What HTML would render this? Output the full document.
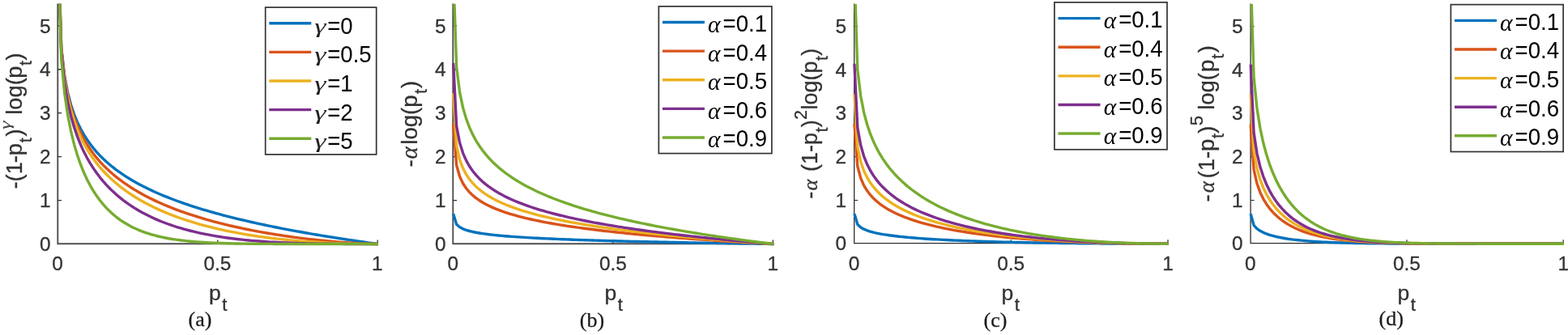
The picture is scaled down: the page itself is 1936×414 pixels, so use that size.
<!DOCTYPE html>
<html lang="en">
<head>
<meta charset="utf-8">
<title>Loss curves</title>
<style>
html,body{margin:0;padding:0;background:#fff;}
body{width:1936px;height:414px;overflow:hidden;}
svg{display:block;font-family:"Liberation Sans", sans-serif;}
</style>
</head>
<body>
<svg width="1936" height="414" viewBox="0 0 1936 414">
<rect width="1936" height="414" fill="#fff"/>
<g id="panel-a">
<clipPath id="clip-a"><rect x="69.3" y="4.63" width="400.9" height="300.67"/></clipPath>
<path d="M71.3 5.33V301.2H466.2" fill="none" stroke="#505050" stroke-width="1.9" stroke-linecap="square"/>
<path d="M268.75 301.2v-4.8M466.2 301.2v-4.8M71.3 247.56h4.8M71.3 193.62h4.8M71.3 139.68h4.8M71.3 85.74h4.8M71.3 31.8h4.8" fill="none" stroke="#303030" stroke-width="1.3"/>
<g clip-path="url(#clip-a)" fill="none" stroke-width="3.4" stroke-linejoin="round">
<polyline stroke="#0072BD" points="71.69,-71.1 75.68,58.68 79.66,93.58 83.65,114.6 87.63,129.68 91.62,141.46 95.6,151.12 99.59,159.31 103.57,166.41 107.56,172.69 111.54,178.32 115.53,183.41 119.51,188.06 123.5,192.35 127.48,196.32 131.47,200.01 135.45,203.47 139.44,206.72 143.42,209.79 147.41,212.69 151.39,215.44 155.38,218.06 159.36,220.56 163.35,222.95 167.33,225.23 171.32,227.42 175.3,229.53 179.29,231.56 183.27,233.51 187.26,235.4 191.24,237.22 195.23,238.99 199.21,240.69 203.2,242.35 207.18,243.95 211.17,245.51 215.15,247.03 219.14,248.5 223.12,249.94 227.11,251.33 231.09,252.7 235.08,254.03 239.06,255.32 243.05,256.59 247.03,257.83 251.02,259.04 255,260.22 258.99,261.38 262.97,262.51 266.95,263.62 270.94,264.71 274.92,265.77 278.91,266.82 282.89,267.84 286.88,268.85 290.86,269.84 294.85,270.81 298.83,271.76 302.82,272.7 306.8,273.62 310.79,274.52 314.77,275.41 318.76,276.29 322.74,277.15 326.73,278 330.71,278.83 334.7,279.66 338.68,280.47 342.67,281.26 346.65,282.05 350.64,282.83 354.62,283.59 358.61,284.34 362.59,285.09 366.58,285.82 370.56,286.54 374.55,287.26 378.53,287.96 382.52,288.65 386.5,289.34 390.49,290.02 394.47,290.69 398.46,291.35 402.44,292 406.43,292.65 410.41,293.28 414.4,293.91 418.38,294.54 422.37,295.15 426.35,295.76 430.34,296.36 434.32,296.96 438.31,297.55 442.29,298.13 446.28,298.71 450.26,299.28 454.25,299.84 458.23,300.4 462.22,300.95 466.2,301.5 467,301.5"/>
<polyline stroke="#D95319" points="71.69,-70.92 75.68,60.03 79.66,95.8 83.65,117.54 87.63,133.27 91.62,145.63 95.6,155.82 99.59,164.49 103.57,172.05 107.56,178.75 111.54,184.76 115.53,190.22 119.51,195.21 123.5,199.82 127.48,204.09 131.47,208.06 135.45,211.79 139.44,215.29 143.42,218.58 147.41,221.7 151.39,224.66 155.38,227.47 159.36,230.15 163.35,232.71 167.33,235.15 171.32,237.49 175.3,239.73 179.29,241.89 183.27,243.95 187.26,245.95 191.24,247.87 195.23,249.72 199.21,251.5 203.2,253.23 207.18,254.89 211.17,256.51 215.15,258.07 219.14,259.58 223.12,261.05 227.11,262.47 231.09,263.84 235.08,265.18 239.06,266.48 243.05,267.74 247.03,268.96 251.02,270.15 255,271.31 258.99,272.43 262.97,273.53 266.95,274.59 270.94,275.63 274.92,276.64 278.91,277.62 282.89,278.57 286.88,279.5 290.86,280.4 294.85,281.28 298.83,282.14 302.82,282.97 306.8,283.79 310.79,284.58 314.77,285.35 318.76,286.1 322.74,286.82 326.73,287.53 330.71,288.22 334.7,288.89 338.68,289.55 342.67,290.18 346.65,290.8 350.64,291.4 354.62,291.98 358.61,292.54 362.59,293.09 366.58,293.62 370.56,294.14 374.55,294.64 378.53,295.12 382.52,295.59 386.5,296.04 390.49,296.47 394.47,296.89 398.46,297.3 402.44,297.68 406.43,298.06 410.41,298.41 414.4,298.75 418.38,299.08 422.37,299.39 426.35,299.68 430.34,299.95 434.32,300.21 438.31,300.45 442.29,300.67 446.28,300.87 450.26,301.05 454.25,301.21 458.23,301.34 462.22,301.45 466.2,301.5 467,301.5"/>
<polyline stroke="#EDB120" points="71.69,-70.73 75.68,61.38 79.66,97.99 83.65,120.44 87.63,136.79 91.62,149.69 95.6,160.37 99.59,169.49 103.57,177.45 107.56,184.52 111.54,190.87 115.53,196.64 119.51,201.91 123.5,206.78 127.48,211.28 131.47,215.48 135.45,219.4 139.44,223.08 143.42,226.54 147.41,229.81 151.39,232.9 155.38,235.83 159.36,238.61 163.35,241.26 167.33,243.78 171.32,246.19 175.3,248.49 179.29,250.69 183.27,252.79 187.26,254.81 191.24,256.75 195.23,258.6 199.21,260.39 203.2,262.11 207.18,263.76 211.17,265.34 215.15,266.87 219.14,268.34 223.12,269.76 227.11,271.13 231.09,272.44 235.08,273.71 239.06,274.94 243.05,276.12 247.03,277.26 251.02,278.36 255,279.42 258.99,280.45 262.97,281.43 266.95,282.39 270.94,283.31 274.92,284.19 278.91,285.05 282.89,285.88 286.88,286.67 290.86,287.44 294.85,288.18 298.83,288.9 302.82,289.58 306.8,290.25 310.79,290.88 314.77,291.5 318.76,292.09 322.74,292.65 326.73,293.2 330.71,293.72 334.7,294.23 338.68,294.71 342.67,295.17 346.65,295.61 350.64,296.04 354.62,296.44 358.61,296.83 362.59,297.19 366.58,297.54 370.56,297.88 374.55,298.19 378.53,298.49 382.52,298.78 386.5,299.05 390.49,299.3 394.47,299.54 398.46,299.76 402.44,299.97 406.43,300.16 410.41,300.34 414.4,300.5 418.38,300.66 422.37,300.8 426.35,300.92 430.34,301.03 434.32,301.13 438.31,301.22 442.29,301.3 446.28,301.36 450.26,301.41 454.25,301.45 458.23,301.48 462.22,301.49 466.2,301.5 467,301.5"/>
<polyline stroke="#7E2F8E" points="71.69,-70.36 75.68,64.04 79.66,102.3 83.65,126.1 87.63,143.6 91.62,157.5 95.6,169.06 99.59,178.95 103.57,187.59 107.56,195.26 111.54,202.15 115.53,208.38 119.51,214.07 123.5,219.3 127.48,224.12 131.47,228.58 135.45,232.73 139.44,236.61 143.42,240.23 147.41,243.62 151.39,246.81 155.38,249.81 159.36,252.63 163.35,255.3 167.33,257.82 171.32,260.2 175.3,262.45 179.29,264.58 183.27,266.6 187.26,268.52 191.24,270.34 195.23,272.07 199.21,273.71 203.2,275.26 207.18,276.74 211.17,278.15 215.15,279.49 219.14,280.76 223.12,281.96 227.11,283.11 231.09,284.2 235.08,285.24 239.06,286.22 243.05,287.16 247.03,288.05 251.02,288.89 255,289.69 258.99,290.45 262.97,291.17 266.95,291.86 270.94,292.5 274.92,293.12 278.91,293.7 282.89,294.25 286.88,294.77 290.86,295.26 294.85,295.72 298.83,296.16 302.82,296.57 306.8,296.96 310.79,297.32 314.77,297.66 318.76,297.99 322.74,298.29 326.73,298.57 330.71,298.83 334.7,299.08 338.68,299.31 342.67,299.52 346.65,299.72 350.64,299.9 354.62,300.07 358.61,300.23 362.59,300.37 366.58,300.5 370.56,300.62 374.55,300.73 378.53,300.83 382.52,300.92 386.5,301 390.49,301.08 394.47,301.14 398.46,301.2 402.44,301.25 406.43,301.3 410.41,301.34 414.4,301.37 418.38,301.4 422.37,301.42 426.35,301.44 430.34,301.46 434.32,301.47 438.31,301.48 442.29,301.49 446.28,301.49 450.26,301.5 454.25,301.5 458.23,301.5 462.22,301.5 466.2,301.5 467,301.5"/>
<polyline stroke="#77AC30" points="71.69,-69.25 75.68,71.85 79.66,114.69 83.65,142.05 87.63,162.4 91.62,178.61 95.6,192.04 99.59,203.44 103.57,213.3 107.56,221.92 111.54,229.53 115.53,236.3 119.51,242.34 123.5,247.78 127.48,252.67 131.47,257.09 135.45,261.1 139.44,264.74 143.42,268.04 147.41,271.05 151.39,273.79 155.38,276.29 159.36,278.58 163.35,280.66 167.33,282.56 171.32,284.3 175.3,285.89 179.29,287.34 183.27,288.67 187.26,289.88 191.24,290.98 195.23,291.99 199.21,292.91 203.2,293.75 207.18,294.51 211.17,295.21 215.15,295.84 219.14,296.42 223.12,296.94 227.11,297.42 231.09,297.85 235.08,298.24 239.06,298.59 243.05,298.91 247.03,299.2 251.02,299.46 255,299.69 258.99,299.9 262.97,300.09 266.95,300.26 270.94,300.41 274.92,300.55 278.91,300.67 282.89,300.77 286.88,300.87 290.86,300.95 294.85,301.03 298.83,301.09 302.82,301.15 306.8,301.2 310.79,301.25 314.77,301.28 318.76,301.32 322.74,301.35 326.73,301.37 330.71,301.39 334.7,301.41 338.68,301.43 342.67,301.44 346.65,301.45 350.64,301.46 354.62,301.47 358.61,301.47 362.59,301.48 366.58,301.48 370.56,301.49 374.55,301.49 378.53,301.49 382.52,301.49 386.5,301.5 390.49,301.5 394.47,301.5 398.46,301.5 402.44,301.5 406.43,301.5 410.41,301.5 414.4,301.5 418.38,301.5 422.37,301.5 426.35,301.5 430.34,301.5 434.32,301.5 438.31,301.5 442.29,301.5 446.28,301.5 450.26,301.5 454.25,301.5 458.23,301.5 462.22,301.5 466.2,301.5 467,301.5"/>
</g>
<g font-size="24.4" fill="#333333" stroke="#333333" stroke-width="0.3">
<text x="71" y="334" text-anchor="middle">0</text>
<text x="268.45" y="334" text-anchor="middle">0.5</text>
<text x="465.9" y="334" text-anchor="middle">1</text>
<text x="62.5" y="310.24" text-anchor="end">0</text>
<text x="62.5" y="256.3" text-anchor="end">1</text>
<text x="62.5" y="202.36" text-anchor="end">2</text>
<text x="62.5" y="148.42" text-anchor="end">3</text>
<text x="62.5" y="94.48" text-anchor="end">4</text>
<text x="62.5" y="40.54" text-anchor="end">5</text>
</g>
<text transform="translate(27.1 233.5) rotate(-90)" font-size="27.3" fill="#333333" stroke="#333333" stroke-width="0.3" xml:space="preserve"><tspan font-size="27.3">-(1</tspan><tspan font-size="27.3" dx="-1.1">-p</tspan><tspan font-size="21.84" dy="11.74" dx="0.8">t</tspan><tspan font-size="27.3" dy="-11.74" dx="1.5">)</tspan><tspan font-size="27.3" dx="10.1"> log(</tspan><tspan font-size="27.3" dx="-0.5">p</tspan><tspan font-size="21.84" dy="11.74" dx="0.6">t</tspan><tspan font-size="27.3" dy="-11.74" dx="0.3">)</tspan></text>
<text transform="translate(13 160.1) rotate(-90) scale(1.42 1)" font-family='"Liberation Serif", serif' font-style="italic" font-size="18.6" fill="#444">γ</text>
<text x="257.9" y="371.1" font-size="26.5" fill="#333333" stroke="#333333" stroke-width="0.35">p<tspan font-size="21.99" dy="12.4" dx="1.6">t</tspan></text>
<text x="246.9" y="402.7" text-anchor="middle" font-size="26" font-family='"Liberation Serif", serif' fill="#1a1a1a" stroke="#1a1a1a" stroke-width="0.25">(a)</text>
<rect x="327.7" y="9.1" width="137" height="181.8" fill="#fff" stroke="#333333" stroke-width="1.7"/>
<line x1="332.3" y1="28.8" x2="384.3" y2="28.8" stroke="#0072BD" stroke-width="3.4"/>
<text transform="translate(388.18 40.84) scale(1.42 1)" font-family='"Liberation Serif", serif' font-style="italic" font-size="25.5" fill="#222">γ</text>
<text transform="translate(404.2 41.7) scale(0.92 1)" font-size="30" fill="#000">=0</text>
<line x1="332.3" y1="64.4" x2="384.3" y2="64.4" stroke="#D95319" stroke-width="3.4"/>
<text transform="translate(388.18 76.45) scale(1.42 1)" font-family='"Liberation Serif", serif' font-style="italic" font-size="25.5" fill="#222">γ</text>
<text transform="translate(404.2 77.3) scale(0.92 1)" font-size="30" fill="#000">=0.5</text>
<line x1="332.3" y1="100" x2="384.3" y2="100" stroke="#EDB120" stroke-width="3.4"/>
<text transform="translate(388.18 112.05) scale(1.42 1)" font-family='"Liberation Serif", serif' font-style="italic" font-size="25.5" fill="#222">γ</text>
<text transform="translate(404.2 112.9) scale(0.92 1)" font-size="30" fill="#000">=1</text>
<line x1="332.3" y1="135.6" x2="384.3" y2="135.6" stroke="#7E2F8E" stroke-width="3.4"/>
<text transform="translate(388.18 147.65) scale(1.42 1)" font-family='"Liberation Serif", serif' font-style="italic" font-size="25.5" fill="#222">γ</text>
<text transform="translate(404.2 148.5) scale(0.92 1)" font-size="30" fill="#000">=2</text>
<line x1="332.3" y1="171.2" x2="384.3" y2="171.2" stroke="#77AC30" stroke-width="3.4"/>
<text transform="translate(388.18 183.25) scale(1.42 1)" font-family='"Liberation Serif", serif' font-style="italic" font-size="25.5" fill="#222">γ</text>
<text transform="translate(404.2 184.1) scale(0.92 1)" font-size="30" fill="#000">=5</text>
</g>
<g id="panel-b">
<clipPath id="clip-b"><rect x="557.3" y="4.63" width="401.1" height="300.67"/></clipPath>
<path d="M559.3 5.33V301.2H954.4" fill="none" stroke="#505050" stroke-width="1.9" stroke-linecap="square"/>
<path d="M756.85 301.2v-4.8M954.4 301.2v-4.8M559.3 247.56h4.8M559.3 193.62h4.8M559.3 139.68h4.8M559.3 85.74h4.8M559.3 31.8h4.8" fill="none" stroke="#303030" stroke-width="1.3"/>
<g clip-path="url(#clip-b)" fill="none" stroke-width="3.4" stroke-linejoin="round">
<polyline stroke="#0072BD" points="559.7,264.24 563.68,277.22 567.67,280.71 571.66,282.81 575.64,284.32 579.63,285.5 583.62,286.46 587.6,287.28 591.59,287.99 595.58,288.62 599.56,289.18 603.55,289.69 607.54,290.16 611.53,290.58 615.51,290.98 619.5,291.35 623.49,291.7 627.47,292.02 631.46,292.33 635.45,292.62 639.43,292.89 643.42,293.16 647.41,293.41 651.39,293.64 655.38,293.87 659.37,294.09 663.35,294.3 667.34,294.51 671.33,294.7 675.32,294.89 679.3,295.07 683.29,295.25 687.28,295.42 691.26,295.58 695.25,295.75 699.24,295.9 703.22,296.05 707.21,296.2 711.2,296.34 715.18,296.48 719.17,296.62 723.16,296.75 727.15,296.88 731.13,297.01 735.12,297.13 739.11,297.25 743.09,297.37 747.08,297.49 751.07,297.6 755.05,297.71 759.04,297.82 763.03,297.93 767.01,298.03 771,298.13 774.99,298.23 778.98,298.33 782.96,298.43 786.95,298.53 790.94,298.62 794.92,298.71 798.91,298.8 802.9,298.89 806.88,298.98 810.87,299.07 814.86,299.15 818.84,299.23 822.83,299.32 826.82,299.4 830.81,299.48 834.79,299.56 838.78,299.63 842.77,299.71 846.75,299.78 850.74,299.86 854.73,299.93 858.71,300 862.7,300.08 866.69,300.15 870.67,300.22 874.66,300.28 878.65,300.35 882.64,300.42 886.62,300.48 890.61,300.55 894.6,300.61 898.58,300.68 902.57,300.74 906.56,300.8 910.54,300.87 914.53,300.93 918.52,300.99 922.5,301.05 926.49,301.1 930.48,301.16 934.47,301.22 938.45,301.28 942.44,301.33 946.43,301.39 950.41,301.45 954.4,301.5 955.2,301.5"/>
<polyline stroke="#D95319" points="559.7,152.46 563.68,204.37 567.67,218.33 571.66,226.74 575.64,232.77 579.63,237.48 583.62,241.35 587.6,244.62 591.59,247.47 595.58,249.98 599.56,252.23 603.55,254.26 607.54,256.13 611.53,257.84 615.51,259.43 619.5,260.91 623.49,262.29 627.47,263.59 631.46,264.82 635.45,265.98 639.43,267.08 643.42,268.12 647.41,269.12 651.39,270.08 655.38,270.99 659.37,271.87 663.35,272.71 667.34,273.52 671.33,274.31 675.32,275.06 679.3,275.79 683.29,276.49 687.28,277.18 691.26,277.84 695.25,278.48 699.24,279.11 703.22,279.71 707.21,280.3 711.2,280.87 715.18,281.43 719.17,281.98 723.16,282.51 727.15,283.03 731.13,283.54 735.12,284.03 739.11,284.51 743.09,284.99 747.08,285.45 751.07,285.9 755.05,286.35 759.04,286.78 763.03,287.21 767.01,287.63 771,288.04 774.99,288.44 778.98,288.84 782.96,289.22 786.95,289.6 790.94,289.98 794.92,290.35 798.91,290.71 802.9,291.07 806.88,291.42 810.87,291.76 814.86,292.1 818.84,292.43 822.83,292.76 826.82,293.09 830.81,293.41 834.79,293.72 838.78,294.03 842.77,294.34 846.75,294.64 850.74,294.93 854.73,295.23 858.71,295.52 862.7,295.8 866.69,296.08 870.67,296.36 874.66,296.64 878.65,296.91 882.64,297.18 886.62,297.44 890.61,297.7 894.6,297.96 898.58,298.21 902.57,298.47 906.56,298.72 910.54,298.96 914.53,299.2 918.52,299.45 922.5,299.68 926.49,299.92 930.48,300.15 934.47,300.38 938.45,300.61 942.44,300.84 946.43,301.06 950.41,301.28 954.4,301.5 955.2,301.5"/>
<polyline stroke="#EDB120" points="559.7,115.2 563.68,180.09 567.67,197.54 571.66,208.05 575.64,215.59 579.63,221.48 583.62,226.31 587.6,230.4 591.59,233.96 595.58,237.1 599.56,239.91 603.55,242.46 607.54,244.78 611.53,246.92 615.51,248.91 619.5,250.76 623.49,252.49 627.47,254.11 631.46,255.64 635.45,257.09 639.43,258.47 643.42,259.78 647.41,261.03 651.39,262.22 655.38,263.37 659.37,264.46 663.35,265.52 667.34,266.53 671.33,267.51 675.32,268.45 679.3,269.36 683.29,270.24 687.28,271.1 691.26,271.92 695.25,272.73 699.24,273.51 703.22,274.26 707.21,275 711.2,275.72 715.18,276.42 719.17,277.1 723.16,277.76 727.15,278.41 731.13,279.04 735.12,279.66 739.11,280.27 743.09,280.86 747.08,281.44 751.07,282 755.05,282.56 759.04,283.1 763.03,283.64 767.01,284.16 771,284.67 774.99,285.17 778.98,285.67 782.96,286.15 786.95,286.63 790.94,287.1 794.92,287.56 798.91,288.01 802.9,288.46 806.88,288.89 810.87,289.33 814.86,289.75 818.84,290.17 822.83,290.58 826.82,290.98 830.81,291.38 834.79,291.78 838.78,292.16 842.77,292.54 846.75,292.92 850.74,293.29 854.73,293.66 858.71,294.02 862.7,294.38 866.69,294.73 870.67,295.08 874.66,295.42 878.65,295.76 882.64,296.09 886.62,296.42 890.61,296.75 894.6,297.07 898.58,297.39 902.57,297.71 906.56,298.02 910.54,298.33 914.53,298.63 918.52,298.93 922.5,299.23 926.49,299.52 930.48,299.82 934.47,300.1 938.45,300.39 942.44,300.67 946.43,300.95 950.41,301.23 954.4,301.5 955.2,301.5"/>
<polyline stroke="#7E2F8E" points="559.7,77.94 563.68,155.81 567.67,176.75 571.66,189.36 575.64,198.41 579.63,205.47 583.62,211.27 587.6,216.18 591.59,220.45 595.58,224.22 599.56,227.59 603.55,230.65 607.54,233.44 611.53,236.01 615.51,238.39 619.5,240.61 623.49,242.68 627.47,244.63 631.46,246.47 635.45,248.21 639.43,249.87 643.42,251.44 647.41,252.94 651.39,254.37 655.38,255.74 659.37,257.05 663.35,258.32 667.34,259.54 671.33,260.71 675.32,261.84 679.3,262.93 683.29,263.99 687.28,265.02 691.26,266.01 695.25,266.97 699.24,267.91 703.22,268.82 707.21,269.7 711.2,270.56 715.18,271.4 719.17,272.22 723.16,273.02 727.15,273.79 731.13,274.55 735.12,275.3 739.11,276.02 743.09,276.73 747.08,277.43 751.07,278.11 755.05,278.77 759.04,279.42 763.03,280.06 767.01,280.69 771,281.31 774.99,281.91 778.98,282.5 782.96,283.08 786.95,283.66 790.94,284.22 794.92,284.77 798.91,285.31 802.9,285.85 806.88,286.37 810.87,286.89 814.86,287.4 818.84,287.9 822.83,288.39 826.82,288.88 830.81,289.36 834.79,289.83 838.78,290.3 842.77,290.75 846.75,291.21 850.74,291.65 854.73,292.09 858.71,292.53 862.7,292.95 866.69,293.38 870.67,293.79 874.66,294.2 878.65,294.61 882.64,295.01 886.62,295.41 890.61,295.8 894.6,296.19 898.58,296.57 902.57,296.95 906.56,297.32 910.54,297.69 914.53,298.06 918.52,298.42 922.5,298.78 926.49,299.13 930.48,299.48 934.47,299.82 938.45,300.17 942.44,300.51 946.43,300.84 950.41,301.17 954.4,301.5 955.2,301.5"/>
<polyline stroke="#77AC30" points="559.7,-33.84 563.68,82.96 567.67,114.37 571.66,133.29 575.64,146.86 579.63,157.46 583.62,166.15 587.6,173.53 591.59,179.92 595.58,185.57 599.56,190.64 603.55,195.22 607.54,199.41 611.53,203.26 615.51,206.83 619.5,210.16 623.49,213.27 627.47,216.2 631.46,218.96 635.45,221.57 639.43,224.05 643.42,226.4 647.41,228.65 651.39,230.8 655.38,232.86 659.37,234.83 663.35,236.73 667.34,238.55 671.33,240.31 675.32,242.01 679.3,243.65 683.29,245.24 687.28,246.77 691.26,248.26 695.25,249.71 699.24,251.11 703.22,252.48 707.21,253.8 711.2,255.09 715.18,256.35 719.17,257.58 723.16,258.77 727.15,259.94 731.13,261.08 735.12,262.19 739.11,263.28 743.09,264.35 747.08,265.39 751.07,266.41 755.05,267.41 759.04,268.39 763.03,269.35 767.01,270.29 771,271.21 774.99,272.11 778.98,273 782.96,273.88 786.95,274.74 790.94,275.58 794.92,276.41 798.91,277.22 802.9,278.02 806.88,278.81 810.87,279.59 814.86,280.35 818.84,281.1 822.83,281.84 826.82,282.57 830.81,283.29 834.79,284 838.78,284.69 842.77,285.38 846.75,286.06 850.74,286.73 854.73,287.39 858.71,288.04 862.7,288.68 866.69,289.31 870.67,289.94 874.66,290.56 878.65,291.17 882.64,291.77 886.62,292.36 890.61,292.95 894.6,293.53 898.58,294.11 902.57,294.67 906.56,295.23 910.54,295.79 914.53,296.34 918.52,296.88 922.5,297.41 926.49,297.94 930.48,298.47 934.47,298.99 938.45,299.5 942.44,300.01 946.43,300.51 950.41,301.01 954.4,301.5 955.2,301.5"/>
</g>
<g font-size="24.4" fill="#333333" stroke="#333333" stroke-width="0.3">
<text x="559.3" y="334" text-anchor="middle">0</text>
<text x="756.85" y="334" text-anchor="middle">0.5</text>
<text x="954.4" y="334" text-anchor="middle">1</text>
<text x="550.6" y="310.24" text-anchor="end">0</text>
<text x="550.6" y="256.3" text-anchor="end">1</text>
<text x="550.6" y="202.36" text-anchor="end">2</text>
<text x="550.6" y="148.42" text-anchor="end">3</text>
<text x="550.6" y="94.48" text-anchor="end">4</text>
<text x="550.6" y="40.54" text-anchor="end">5</text>
</g>
<text transform="translate(515 206.6) rotate(-90)" font-size="27.5" fill="#333333" stroke="#333333" stroke-width="0.3" xml:space="preserve"><tspan font-size="27.5">-</tspan><tspan font-size="28.88" font-family='"Liberation Serif", serif' font-style="italic" dx="1">α</tspan><tspan font-size="27.5" dx="2.6">log(p</tspan><tspan font-size="22" dy="11.82" dx="1.5">t</tspan><tspan font-size="27.5" dy="-11.82" dx="0.9">)</tspan></text>
<text x="746.4" y="371.1" font-size="26.5" fill="#333333" stroke="#333333" stroke-width="0.35">p<tspan font-size="21.99" dy="12.4" dx="1.6">t</tspan></text>
<text x="731" y="404.2" text-anchor="middle" font-size="26" font-family='"Liberation Serif", serif' fill="#1a1a1a" stroke="#1a1a1a" stroke-width="0.25">(b)</text>
<rect x="813.35" y="7.9" width="139.55" height="181.7" fill="#fff" stroke="#333333" stroke-width="1.7"/>
<line x1="817.95" y1="27.55" x2="869.95" y2="27.55" stroke="#0072BD" stroke-width="3.4"/>
<text transform="translate(874.11 40.05) scale(1 1)" font-family='"Liberation Serif", serif' font-style="italic" font-size="29.6" fill="#000">α</text>
<text transform="translate(892.6 39.05) scale(0.92 1)" font-size="30" fill="#000">=0.1</text>
<line x1="817.95" y1="63.15" x2="869.95" y2="63.15" stroke="#D95319" stroke-width="3.4"/>
<text transform="translate(874.11 75.65) scale(1 1)" font-family='"Liberation Serif", serif' font-style="italic" font-size="29.6" fill="#000">α</text>
<text transform="translate(892.6 74.65) scale(0.92 1)" font-size="30" fill="#000">=0.4</text>
<line x1="817.95" y1="98.75" x2="869.95" y2="98.75" stroke="#EDB120" stroke-width="3.4"/>
<text transform="translate(874.11 111.25) scale(1 1)" font-family='"Liberation Serif", serif' font-style="italic" font-size="29.6" fill="#000">α</text>
<text transform="translate(892.6 110.25) scale(0.92 1)" font-size="30" fill="#000">=0.5</text>
<line x1="817.95" y1="134.35" x2="869.95" y2="134.35" stroke="#7E2F8E" stroke-width="3.4"/>
<text transform="translate(874.11 146.85) scale(1 1)" font-family='"Liberation Serif", serif' font-style="italic" font-size="29.6" fill="#000">α</text>
<text transform="translate(892.6 145.85) scale(0.92 1)" font-size="30" fill="#000">=0.6</text>
<line x1="817.95" y1="169.95" x2="869.95" y2="169.95" stroke="#77AC30" stroke-width="3.4"/>
<text transform="translate(874.11 182.45) scale(1 1)" font-family='"Liberation Serif", serif' font-style="italic" font-size="29.6" fill="#000">α</text>
<text transform="translate(892.6 181.45) scale(0.92 1)" font-size="30" fill="#000">=0.9</text>
</g>
<g id="panel-c">
<clipPath id="clip-c"><rect x="1052.5" y="5.04" width="393.5" height="299.46"/></clipPath>
<path d="M1054.7 5.24V300.7H1442" fill="none" stroke="#2e2e2e" stroke-width="1.3" stroke-linecap="square"/>
<path d="M1248.25 300.7v-4.5M1442 300.7v-4.5M1054.7 247.48h4.5M1054.7 193.76h4.5M1054.7 140.04h4.5M1054.7 86.32h4.5M1054.7 32.6h4.5" fill="none" stroke="#262626" stroke-width="1.2"/>
<g clip-path="url(#clip-c)" fill="none" stroke-width="3.4" stroke-linejoin="round">
<polyline stroke="#0072BD" points="1054.89,264.13 1058.8,277.29 1062.71,280.93 1066.62,283.17 1070.53,284.8 1074.44,286.08 1078.35,287.14 1082.26,288.05 1086.17,288.85 1090.08,289.55 1093.99,290.18 1097.9,290.76 1101.81,291.28 1105.72,291.77 1109.63,292.21 1113.54,292.63 1117.45,293.02 1121.36,293.39 1125.27,293.73 1129.18,294.06 1133.09,294.37 1137,294.66 1140.91,294.94 1144.82,295.2 1148.73,295.45 1152.64,295.69 1156.55,295.92 1160.46,296.14 1164.37,296.35 1168.28,296.55 1172.19,296.74 1176.1,296.93 1180.01,297.11 1183.92,297.28 1187.84,297.44 1191.75,297.6 1195.66,297.75 1199.57,297.9 1203.48,298.04 1207.39,298.18 1211.3,298.31 1215.21,298.43 1219.12,298.55 1223.03,298.67 1226.94,298.79 1230.85,298.9 1234.76,299 1238.67,299.1 1242.58,299.2 1246.49,299.3 1250.4,299.39 1254.31,299.48 1258.22,299.56 1262.13,299.64 1266.04,299.72 1269.95,299.8 1273.86,299.87 1277.77,299.94 1281.68,300.01 1285.59,300.08 1289.5,300.14 1293.41,300.2 1297.32,300.26 1301.23,300.32 1305.14,300.37 1309.05,300.43 1312.96,300.48 1316.87,300.52 1320.78,300.57 1324.69,300.61 1328.6,300.66 1332.51,300.7 1336.42,300.73 1340.33,300.77 1344.24,300.81 1348.15,300.84 1352.06,300.87 1355.97,300.9 1359.89,300.93 1363.8,300.96 1367.71,300.98 1371.62,301 1375.53,301.03 1379.44,301.05 1383.35,301.07 1387.26,301.08 1391.17,301.1 1395.08,301.12 1398.99,301.13 1402.9,301.14 1406.81,301.15 1410.72,301.16 1414.63,301.17 1418.54,301.18 1422.45,301.19 1426.36,301.19 1430.27,301.2 1434.18,301.2 1438.09,301.2 1442,301.2 1442.8,301.2"/>
<polyline stroke="#D95319" points="1054.89,152.91 1058.8,205.54 1062.71,220.13 1066.62,229.07 1070.53,235.58 1074.44,240.72 1078.35,244.98 1082.26,248.61 1086.17,251.78 1090.08,254.6 1093.99,257.13 1097.9,259.43 1101.81,261.53 1105.72,263.46 1109.63,265.26 1113.54,266.93 1117.45,268.49 1121.36,269.96 1125.27,271.34 1129.18,272.64 1133.09,273.87 1137,275.04 1140.91,276.15 1144.82,277.2 1148.73,278.21 1152.64,279.16 1156.55,280.08 1160.46,280.96 1164.37,281.8 1168.28,282.6 1172.19,283.37 1176.1,284.11 1180.01,284.82 1183.92,285.51 1187.84,286.16 1191.75,286.8 1195.66,287.4 1199.57,287.99 1203.48,288.56 1207.39,289.1 1211.3,289.63 1215.21,290.13 1219.12,290.62 1223.03,291.09 1226.94,291.54 1230.85,291.98 1234.76,292.4 1238.67,292.81 1242.58,293.21 1246.49,293.59 1250.4,293.95 1254.31,294.31 1258.22,294.65 1262.13,294.98 1266.04,295.29 1269.95,295.6 1273.86,295.89 1277.77,296.18 1281.68,296.45 1285.59,296.72 1289.5,296.97 1293.41,297.22 1297.32,297.45 1301.23,297.68 1305.14,297.89 1309.05,298.1 1312.96,298.3 1316.87,298.49 1320.78,298.68 1324.69,298.85 1328.6,299.02 1332.51,299.18 1336.42,299.34 1340.33,299.48 1344.24,299.62 1348.15,299.76 1352.06,299.88 1355.97,300 1359.89,300.12 1363.8,300.22 1367.71,300.32 1371.62,300.42 1375.53,300.51 1379.44,300.59 1383.35,300.67 1387.26,300.74 1391.17,300.8 1395.08,300.86 1398.99,300.92 1402.9,300.97 1406.81,301.01 1410.72,301.05 1414.63,301.09 1418.54,301.12 1422.45,301.14 1426.36,301.16 1430.27,301.18 1434.18,301.19 1438.09,301.2 1442,301.2 1442.8,301.2"/>
<polyline stroke="#EDB120" points="1054.89,115.84 1058.8,181.63 1062.71,199.86 1066.62,211.04 1070.53,219.18 1074.44,225.61 1078.35,230.92 1082.26,235.47 1086.17,239.43 1090.08,242.95 1093.99,246.11 1097.9,248.98 1101.81,251.61 1105.72,254.03 1109.63,256.27 1113.54,258.36 1117.45,260.32 1121.36,262.15 1125.27,263.87 1129.18,265.5 1133.09,267.04 1137,268.5 1140.91,269.88 1144.82,271.2 1148.73,272.46 1152.64,273.66 1156.55,274.8 1160.46,275.9 1164.37,276.95 1168.28,277.95 1172.19,278.91 1176.1,279.84 1180.01,280.73 1183.92,281.58 1187.84,282.4 1191.75,283.2 1195.66,283.96 1199.57,284.69 1203.48,285.4 1207.39,286.08 1211.3,286.73 1215.21,287.36 1219.12,287.97 1223.03,288.56 1226.94,289.13 1230.85,289.68 1234.76,290.21 1238.67,290.72 1242.58,291.21 1246.49,291.68 1250.4,292.14 1254.31,292.58 1258.22,293.01 1262.13,293.42 1266.04,293.82 1269.95,294.2 1273.86,294.57 1277.77,294.92 1281.68,295.27 1285.59,295.6 1289.5,295.91 1293.41,296.22 1297.32,296.51 1301.23,296.8 1305.14,297.07 1309.05,297.33 1312.96,297.58 1316.87,297.82 1320.78,298.05 1324.69,298.27 1328.6,298.48 1332.51,298.68 1336.42,298.87 1340.33,299.06 1344.24,299.23 1348.15,299.4 1352.06,299.55 1355.97,299.7 1359.89,299.84 1363.8,299.98 1367.71,300.1 1371.62,300.22 1375.53,300.33 1379.44,300.44 1383.35,300.53 1387.26,300.62 1391.17,300.7 1395.08,300.78 1398.99,300.85 1402.9,300.91 1406.81,300.97 1410.72,301.02 1414.63,301.06 1418.54,301.1 1422.45,301.13 1426.36,301.16 1430.27,301.18 1434.18,301.19 1438.09,301.2 1442,301.2 1442.8,301.2"/>
<polyline stroke="#7E2F8E" points="1054.89,78.77 1058.8,157.71 1062.71,179.59 1066.62,193.01 1070.53,202.78 1074.44,210.49 1078.35,216.87 1082.26,222.32 1086.17,227.08 1090.08,231.3 1093.99,235.09 1097.9,238.54 1101.81,241.69 1105.72,244.6 1109.63,247.29 1113.54,249.8 1117.45,252.14 1121.36,254.34 1125.27,256.41 1129.18,258.36 1133.09,260.21 1137,261.96 1140.91,263.62 1144.82,265.2 1148.73,266.71 1152.64,268.15 1156.55,269.52 1160.46,270.84 1164.37,272.09 1168.28,273.3 1172.19,274.46 1176.1,275.57 1180.01,276.63 1183.92,277.66 1187.84,278.65 1191.75,279.59 1195.66,280.51 1199.57,281.39 1203.48,282.23 1207.39,283.05 1211.3,283.84 1215.21,284.6 1219.12,285.33 1223.03,286.03 1226.94,286.72 1230.85,287.37 1234.76,288.01 1238.67,288.62 1242.58,289.21 1246.49,289.78 1250.4,290.33 1254.31,290.86 1258.22,291.37 1262.13,291.86 1266.04,292.34 1269.95,292.8 1273.86,293.24 1277.77,293.67 1281.68,294.08 1285.59,294.48 1289.5,294.86 1293.41,295.22 1297.32,295.58 1301.23,295.91 1305.14,296.24 1309.05,296.55 1312.96,296.85 1316.87,297.14 1320.78,297.42 1324.69,297.68 1328.6,297.93 1332.51,298.18 1336.42,298.41 1340.33,298.63 1344.24,298.84 1348.15,299.04 1352.06,299.22 1355.97,299.4 1359.89,299.57 1363.8,299.73 1367.71,299.88 1371.62,300.03 1375.53,300.16 1379.44,300.28 1383.35,300.4 1387.26,300.51 1391.17,300.61 1395.08,300.7 1398.99,300.78 1402.9,300.85 1406.81,300.92 1410.72,300.98 1414.63,301.03 1418.54,301.08 1422.45,301.12 1426.36,301.15 1430.27,301.17 1434.18,301.19 1438.09,301.2 1442,301.2 1442.8,301.2"/>
<polyline stroke="#77AC30" points="1054.89,-32.44 1058.8,85.97 1062.71,118.78 1066.62,138.91 1070.53,153.56 1074.44,165.13 1078.35,174.7 1082.26,182.88 1086.17,190.01 1090.08,196.35 1093.99,202.04 1097.9,207.21 1101.81,211.94 1105.72,216.3 1109.63,220.33 1113.54,224.09 1117.45,227.61 1121.36,230.91 1125.27,234.01 1129.18,236.94 1133.09,239.71 1137,242.33 1140.91,244.83 1144.82,247.2 1148.73,249.46 1152.64,251.62 1156.55,253.68 1160.46,255.65 1164.37,257.54 1168.28,259.35 1172.19,261.09 1176.1,262.75 1180.01,264.35 1183.92,265.89 1187.84,267.37 1191.75,268.79 1195.66,270.16 1199.57,271.48 1203.48,272.75 1207.39,273.98 1211.3,275.16 1215.21,276.3 1219.12,277.39 1223.03,278.45 1226.94,279.47 1230.85,280.46 1234.76,281.41 1238.67,282.33 1242.58,283.21 1246.49,284.07 1250.4,284.89 1254.31,285.69 1258.22,286.46 1262.13,287.2 1266.04,287.91 1269.95,288.6 1273.86,289.26 1277.77,289.9 1281.68,290.52 1285.59,291.11 1289.5,291.68 1293.41,292.23 1297.32,292.76 1301.23,293.27 1305.14,293.76 1309.05,294.23 1312.96,294.68 1316.87,295.11 1320.78,295.53 1324.69,295.92 1328.6,296.3 1332.51,296.66 1336.42,297.01 1340.33,297.34 1344.24,297.65 1348.15,297.95 1352.06,298.24 1355.97,298.51 1359.89,298.76 1363.8,299 1367.71,299.23 1371.62,299.44 1375.53,299.64 1379.44,299.83 1383.35,300 1387.26,300.16 1391.17,300.31 1395.08,300.44 1398.99,300.57 1402.9,300.68 1406.81,300.78 1410.72,300.87 1414.63,300.95 1418.54,301.02 1422.45,301.07 1426.36,301.12 1430.27,301.16 1434.18,301.18 1438.09,301.2 1442,301.2 1442.8,301.2"/>
</g>
<g font-size="24.4" fill="#333333" stroke="#333333" stroke-width="0.3">
<text x="1054.5" y="334" text-anchor="middle">0</text>
<text x="1248.25" y="334" text-anchor="middle">0.5</text>
<text x="1442" y="334" text-anchor="middle">1</text>
<text x="1045" y="309.44" text-anchor="end">0</text>
<text x="1045" y="255.72" text-anchor="end">1</text>
<text x="1045" y="202" text-anchor="end">2</text>
<text x="1045" y="148.28" text-anchor="end">3</text>
<text x="1045" y="94.56" text-anchor="end">4</text>
<text x="1045" y="40.84" text-anchor="end">5</text>
</g>
<text transform="translate(1009.3 245.8) rotate(-90)" font-size="27" fill="#333333" stroke="#333333" stroke-width="0.3" xml:space="preserve"><tspan font-size="27">-</tspan><tspan font-size="26.19" font-family='"Liberation Serif", serif' font-style="italic" dx="1.3">α</tspan><tspan font-size="27" dx="2.2"> (1-p</tspan><tspan font-size="21.6" dy="12.42" dx="0.6">t</tspan><tspan font-size="27" dy="-12.42" dx="0.2">)</tspan><tspan font-size="21.6" dy="-12.96" dx="0.3">2</tspan><tspan font-size="27" dy="12.96" dx="0.3">log(p</tspan><tspan font-size="21.6" dy="12.42" dx="0.6">t</tspan><tspan font-size="27" dy="-12.42" dx="0.2">)</tspan></text>
<text x="1236.4" y="371.1" font-size="26.5" fill="#333333" stroke="#333333" stroke-width="0.35">p<tspan font-size="21.99" dy="12.4" dx="1.6">t</tspan></text>
<text x="1229" y="404.2" text-anchor="middle" font-size="26" font-family='"Liberation Serif", serif' fill="#1a1a1a" stroke="#1a1a1a" stroke-width="0.25">(c)</text>
<rect x="1301.9" y="2.9" width="139.1" height="181.9" fill="#fff" stroke="#333333" stroke-width="1.7"/>
<line x1="1306.5" y1="22.65" x2="1358.5" y2="22.65" stroke="#0072BD" stroke-width="3.4"/>
<text transform="translate(1362.66 35.15) scale(1 1)" font-family='"Liberation Serif", serif' font-style="italic" font-size="29.6" fill="#000">α</text>
<text transform="translate(1381.15 34.15) scale(0.92 1)" font-size="30" fill="#000">=0.1</text>
<line x1="1306.5" y1="58.25" x2="1358.5" y2="58.25" stroke="#D95319" stroke-width="3.4"/>
<text transform="translate(1362.66 70.75) scale(1 1)" font-family='"Liberation Serif", serif' font-style="italic" font-size="29.6" fill="#000">α</text>
<text transform="translate(1381.15 69.75) scale(0.92 1)" font-size="30" fill="#000">=0.4</text>
<line x1="1306.5" y1="93.85" x2="1358.5" y2="93.85" stroke="#EDB120" stroke-width="3.4"/>
<text transform="translate(1362.66 106.35) scale(1 1)" font-family='"Liberation Serif", serif' font-style="italic" font-size="29.6" fill="#000">α</text>
<text transform="translate(1381.15 105.35) scale(0.92 1)" font-size="30" fill="#000">=0.5</text>
<line x1="1306.5" y1="129.45" x2="1358.5" y2="129.45" stroke="#7E2F8E" stroke-width="3.4"/>
<text transform="translate(1362.66 141.95) scale(1 1)" font-family='"Liberation Serif", serif' font-style="italic" font-size="29.6" fill="#000">α</text>
<text transform="translate(1381.15 140.95) scale(0.92 1)" font-size="30" fill="#000">=0.6</text>
<line x1="1306.5" y1="165.05" x2="1358.5" y2="165.05" stroke="#77AC30" stroke-width="3.4"/>
<text transform="translate(1362.66 177.55) scale(1 1)" font-family='"Liberation Serif", serif' font-style="italic" font-size="29.6" fill="#000">α</text>
<text transform="translate(1381.15 176.55) scale(0.92 1)" font-size="30" fill="#000">=0.9</text>
</g>
<g id="panel-d">
<clipPath id="clip-d"><rect x="1541.8" y="5.04" width="392.4" height="299.46"/></clipPath>
<path d="M1544.1 5.24V300.7H1930.2" fill="none" stroke="#2e2e2e" stroke-width="1.3" stroke-linecap="square"/>
<path d="M1737 300.7v-4.5M1930.2 300.7v-4.5M1544.1 247.48h4.5M1544.1 193.76h4.5M1544.1 140.04h4.5M1544.1 86.32h4.5M1544.1 32.6h4.5" fill="none" stroke="#262626" stroke-width="1.2"/>
<g clip-path="url(#clip-d)" fill="none" stroke-width="3.4" stroke-linejoin="round">
<polyline stroke="#0072BD" points="1544.19,264.28 1548.09,278.33 1551.98,282.6 1555.88,285.32 1559.78,287.35 1563.68,288.96 1567.58,290.3 1571.48,291.43 1575.38,292.42 1579.28,293.27 1583.18,294.03 1587.08,294.71 1590.98,295.31 1594.88,295.85 1598.77,296.34 1602.67,296.78 1606.57,297.18 1610.47,297.54 1614.37,297.87 1618.27,298.17 1622.17,298.44 1626.07,298.69 1629.97,298.92 1633.87,299.12 1637.77,299.31 1641.66,299.49 1645.56,299.65 1649.46,299.79 1653.36,299.92 1657.26,300.04 1661.16,300.15 1665.06,300.25 1668.96,300.34 1672.86,300.43 1676.76,300.5 1680.66,300.57 1684.55,300.64 1688.45,300.69 1692.35,300.75 1696.25,300.79 1700.15,300.84 1704.05,300.88 1707.95,300.91 1711.85,300.94 1715.75,300.97 1719.65,301 1723.55,301.02 1727.45,301.04 1731.34,301.06 1735.24,301.08 1739.14,301.09 1743.04,301.11 1746.94,301.12 1750.84,301.13 1754.74,301.14 1758.64,301.15 1762.54,301.15 1766.44,301.16 1770.34,301.17 1774.23,301.17 1778.13,301.17 1782.03,301.18 1785.93,301.18 1789.83,301.18 1793.73,301.19 1797.63,301.19 1801.53,301.19 1805.43,301.19 1809.33,301.19 1813.23,301.2 1817.13,301.2 1821.02,301.2 1824.92,301.2 1828.82,301.2 1832.72,301.2 1836.62,301.2 1840.52,301.2 1844.42,301.2 1848.32,301.2 1852.22,301.2 1856.12,301.2 1860.02,301.2 1863.91,301.2 1867.81,301.2 1871.71,301.2 1875.61,301.2 1879.51,301.2 1883.41,301.2 1887.31,301.2 1891.21,301.2 1895.11,301.2 1899.01,301.2 1902.91,301.2 1906.81,301.2 1910.7,301.2 1914.6,301.2 1918.5,301.2 1922.4,301.2 1926.3,301.2 1930.2,301.2 1931,301.2"/>
<polyline stroke="#D95319" points="1544.19,153.51 1548.09,209.72 1551.98,226.78 1555.88,237.68 1559.78,245.79 1563.68,252.24 1567.58,257.59 1571.48,262.14 1575.38,266.06 1579.28,269.5 1583.18,272.53 1587.08,275.22 1590.98,277.63 1594.88,279.8 1598.77,281.75 1602.67,283.51 1606.57,285.11 1610.47,286.55 1614.37,287.87 1618.27,289.07 1622.17,290.16 1626.07,291.16 1629.97,292.07 1633.87,292.9 1637.77,293.66 1641.66,294.35 1645.56,294.98 1649.46,295.56 1653.36,296.09 1657.26,296.57 1661.16,297.01 1665.06,297.41 1668.96,297.78 1672.86,298.11 1676.76,298.42 1680.66,298.69 1684.55,298.95 1688.45,299.18 1692.35,299.38 1696.25,299.57 1700.15,299.75 1704.05,299.9 1707.95,300.04 1711.85,300.17 1715.75,300.28 1719.65,300.39 1723.55,300.48 1727.45,300.56 1731.34,300.64 1735.24,300.71 1739.14,300.77 1743.04,300.82 1746.94,300.87 1750.84,300.91 1754.74,300.95 1758.64,300.98 1762.54,301.01 1766.44,301.04 1770.34,301.06 1774.23,301.08 1778.13,301.1 1782.03,301.11 1785.93,301.13 1789.83,301.14 1793.73,301.15 1797.63,301.16 1801.53,301.16 1805.43,301.17 1809.33,301.18 1813.23,301.18 1817.13,301.18 1821.02,301.19 1824.92,301.19 1828.82,301.19 1832.72,301.19 1836.62,301.2 1840.52,301.2 1844.42,301.2 1848.32,301.2 1852.22,301.2 1856.12,301.2 1860.02,301.2 1863.91,301.2 1867.81,301.2 1871.71,301.2 1875.61,301.2 1879.51,301.2 1883.41,301.2 1887.31,301.2 1891.21,301.2 1895.11,301.2 1899.01,301.2 1902.91,301.2 1906.81,301.2 1910.7,301.2 1914.6,301.2 1918.5,301.2 1922.4,301.2 1926.3,301.2 1930.2,301.2 1931,301.2"/>
<polyline stroke="#EDB120" points="1544.19,116.58 1548.09,186.84 1551.98,208.18 1555.88,221.8 1559.78,231.93 1563.68,240 1567.58,246.69 1571.48,252.37 1575.38,257.28 1579.28,261.57 1583.18,265.36 1587.08,268.73 1590.98,271.74 1594.88,274.45 1598.77,276.88 1602.67,279.09 1606.57,281.08 1610.47,282.89 1614.37,284.54 1618.27,286.04 1622.17,287.4 1626.07,288.65 1629.97,289.79 1633.87,290.82 1637.77,291.77 1641.66,292.64 1645.56,293.43 1649.46,294.15 1653.36,294.81 1657.26,295.41 1661.16,295.96 1665.06,296.46 1668.96,296.92 1672.86,297.34 1676.76,297.72 1680.66,298.07 1684.55,298.38 1688.45,298.67 1692.35,298.93 1696.25,299.17 1700.15,299.38 1704.05,299.58 1707.95,299.75 1711.85,299.91 1715.75,300.05 1719.65,300.18 1723.55,300.3 1727.45,300.41 1731.34,300.5 1735.24,300.58 1739.14,300.66 1743.04,300.73 1746.94,300.79 1750.84,300.84 1754.74,300.89 1758.64,300.93 1762.54,300.96 1766.44,301 1770.34,301.03 1774.23,301.05 1778.13,301.07 1782.03,301.09 1785.93,301.11 1789.83,301.12 1793.73,301.14 1797.63,301.15 1801.53,301.16 1805.43,301.16 1809.33,301.17 1813.23,301.18 1817.13,301.18 1821.02,301.18 1824.92,301.19 1828.82,301.19 1832.72,301.19 1836.62,301.19 1840.52,301.2 1844.42,301.2 1848.32,301.2 1852.22,301.2 1856.12,301.2 1860.02,301.2 1863.91,301.2 1867.81,301.2 1871.71,301.2 1875.61,301.2 1879.51,301.2 1883.41,301.2 1887.31,301.2 1891.21,301.2 1895.11,301.2 1899.01,301.2 1902.91,301.2 1906.81,301.2 1910.7,301.2 1914.6,301.2 1918.5,301.2 1922.4,301.2 1926.3,301.2 1930.2,301.2 1931,301.2"/>
<polyline stroke="#7E2F8E" points="1544.19,79.66 1548.09,163.97 1551.98,189.57 1555.88,205.92 1559.78,218.08 1563.68,227.76 1567.58,235.79 1571.48,242.61 1575.38,248.5 1579.28,253.65 1583.18,258.19 1587.08,262.24 1590.98,265.85 1594.88,269.1 1598.77,272.02 1602.67,274.66 1606.57,277.06 1610.47,279.23 1614.37,281.21 1618.27,283.01 1622.17,284.64 1626.07,286.14 1629.97,287.5 1633.87,288.75 1637.77,289.88 1641.66,290.92 1645.56,291.87 1649.46,292.74 1653.36,293.53 1657.26,294.25 1661.16,294.91 1665.06,295.52 1668.96,296.07 1672.86,296.57 1676.76,297.03 1680.66,297.44 1684.55,297.82 1688.45,298.16 1692.35,298.48 1696.25,298.76 1700.15,299.02 1704.05,299.25 1707.95,299.46 1711.85,299.65 1715.75,299.83 1719.65,299.98 1723.55,300.12 1727.45,300.25 1731.34,300.36 1735.24,300.46 1739.14,300.55 1743.04,300.63 1746.94,300.7 1750.84,300.77 1754.74,300.82 1758.64,300.87 1762.54,300.92 1766.44,300.96 1770.34,300.99 1774.23,301.02 1778.13,301.05 1782.03,301.07 1785.93,301.09 1789.83,301.11 1793.73,301.12 1797.63,301.14 1801.53,301.15 1805.43,301.16 1809.33,301.16 1813.23,301.17 1817.13,301.18 1821.02,301.18 1824.92,301.18 1828.82,301.19 1832.72,301.19 1836.62,301.19 1840.52,301.19 1844.42,301.2 1848.32,301.2 1852.22,301.2 1856.12,301.2 1860.02,301.2 1863.91,301.2 1867.81,301.2 1871.71,301.2 1875.61,301.2 1879.51,301.2 1883.41,301.2 1887.31,301.2 1891.21,301.2 1895.11,301.2 1899.01,301.2 1902.91,301.2 1906.81,301.2 1910.7,301.2 1914.6,301.2 1918.5,301.2 1922.4,301.2 1926.3,301.2 1930.2,301.2 1931,301.2"/>
<polyline stroke="#77AC30" points="1544.19,-31.11 1548.09,95.36 1551.98,133.76 1555.88,158.28 1559.78,176.52 1563.68,191.05 1567.58,203.09 1571.48,213.31 1575.38,222.14 1579.28,229.87 1583.18,236.69 1587.08,242.76 1590.98,248.18 1594.88,253.04 1598.77,257.43 1602.67,261.4 1606.57,264.99 1610.47,268.25 1614.37,271.21 1618.27,273.91 1622.17,276.37 1626.07,278.61 1629.97,280.65 1633.87,282.52 1637.77,284.23 1641.66,285.78 1645.56,287.21 1649.46,288.51 1653.36,289.7 1657.26,290.78 1661.16,291.77 1665.06,292.68 1668.96,293.5 1672.86,294.25 1676.76,294.94 1680.66,295.56 1684.55,296.13 1688.45,296.65 1692.35,297.12 1696.25,297.54 1700.15,297.93 1704.05,298.28 1707.95,298.59 1711.85,298.88 1715.75,299.14 1719.65,299.37 1723.55,299.58 1727.45,299.77 1731.34,299.94 1735.24,300.09 1739.14,300.23 1743.04,300.35 1746.94,300.45 1750.84,300.55 1754.74,300.63 1758.64,300.71 1762.54,300.78 1766.44,300.84 1770.34,300.89 1774.23,300.93 1778.13,300.97 1782.03,301.01 1785.93,301.04 1789.83,301.06 1793.73,301.08 1797.63,301.1 1801.53,301.12 1805.43,301.13 1809.33,301.15 1813.23,301.16 1817.13,301.16 1821.02,301.17 1824.92,301.18 1828.82,301.18 1832.72,301.19 1836.62,301.19 1840.52,301.19 1844.42,301.19 1848.32,301.2 1852.22,301.2 1856.12,301.2 1860.02,301.2 1863.91,301.2 1867.81,301.2 1871.71,301.2 1875.61,301.2 1879.51,301.2 1883.41,301.2 1887.31,301.2 1891.21,301.2 1895.11,301.2 1899.01,301.2 1902.91,301.2 1906.81,301.2 1910.7,301.2 1914.6,301.2 1918.5,301.2 1922.4,301.2 1926.3,301.2 1930.2,301.2 1931,301.2"/>
</g>
<g font-size="24.4" fill="#333333" stroke="#333333" stroke-width="0.3">
<text x="1543.8" y="334" text-anchor="middle">0</text>
<text x="1737" y="334" text-anchor="middle">0.5</text>
<text x="1930.2" y="334" text-anchor="middle">1</text>
<text x="1534.7" y="309.44" text-anchor="end">0</text>
<text x="1534.7" y="255.72" text-anchor="end">1</text>
<text x="1534.7" y="202" text-anchor="end">2</text>
<text x="1534.7" y="148.28" text-anchor="end">3</text>
<text x="1534.7" y="94.56" text-anchor="end">4</text>
<text x="1534.7" y="40.84" text-anchor="end">5</text>
</g>
<text transform="translate(1498.6 249.5) rotate(-90)" font-size="27.5" fill="#333333" stroke="#333333" stroke-width="0.3" xml:space="preserve"><tspan font-size="27.5">-</tspan><tspan font-size="26.68" font-family='"Liberation Serif", serif' font-style="italic" dx="2">α</tspan><tspan font-size="27.5" dx="3.8">(1-p</tspan><tspan font-size="22" dy="12.65" dx="0.6">t</tspan><tspan font-size="27.5" dy="-12.65" dx="0.2">)</tspan><tspan font-size="22" dy="-13.2" dx="0.3">5</tspan><tspan font-size="27.5" dy="13.2" dx="-0.5"> log(</tspan><tspan font-size="27.5" dx="1">p</tspan><tspan font-size="22" dy="12.65" dx="1">t</tspan><tspan font-size="27.5" dy="-12.65" dx="1.2">)</tspan></text>
<text x="1725.4" y="371.1" font-size="26.5" fill="#333333" stroke="#333333" stroke-width="0.35">p<tspan font-size="21.99" dy="12.4" dx="1.6">t</tspan></text>
<text x="1717.7" y="401.7" text-anchor="middle" font-size="26" font-family='"Liberation Serif", serif' fill="#1a1a1a" stroke="#1a1a1a" stroke-width="0.25">(d)</text>
<rect x="1791.35" y="5.65" width="138.8" height="181.85" fill="#fff" stroke="#333333" stroke-width="1.7"/>
<line x1="1795.95" y1="25.38" x2="1847.95" y2="25.38" stroke="#0072BD" stroke-width="3.4"/>
<text transform="translate(1852.11 37.88) scale(1 1)" font-family='"Liberation Serif", serif' font-style="italic" font-size="29.6" fill="#000">α</text>
<text transform="translate(1870.6 36.88) scale(0.92 1)" font-size="30" fill="#000">=0.1</text>
<line x1="1795.95" y1="60.98" x2="1847.95" y2="60.98" stroke="#D95319" stroke-width="3.4"/>
<text transform="translate(1852.11 73.47) scale(1 1)" font-family='"Liberation Serif", serif' font-style="italic" font-size="29.6" fill="#000">α</text>
<text transform="translate(1870.6 72.47) scale(0.92 1)" font-size="30" fill="#000">=0.4</text>
<line x1="1795.95" y1="96.58" x2="1847.95" y2="96.58" stroke="#EDB120" stroke-width="3.4"/>
<text transform="translate(1852.11 109.08) scale(1 1)" font-family='"Liberation Serif", serif' font-style="italic" font-size="29.6" fill="#000">α</text>
<text transform="translate(1870.6 108.08) scale(0.92 1)" font-size="30" fill="#000">=0.5</text>
<line x1="1795.95" y1="132.18" x2="1847.95" y2="132.18" stroke="#7E2F8E" stroke-width="3.4"/>
<text transform="translate(1852.11 144.68) scale(1 1)" font-family='"Liberation Serif", serif' font-style="italic" font-size="29.6" fill="#000">α</text>
<text transform="translate(1870.6 143.68) scale(0.92 1)" font-size="30" fill="#000">=0.6</text>
<line x1="1795.95" y1="167.78" x2="1847.95" y2="167.78" stroke="#77AC30" stroke-width="3.4"/>
<text transform="translate(1852.11 180.28) scale(1 1)" font-family='"Liberation Serif", serif' font-style="italic" font-size="29.6" fill="#000">α</text>
<text transform="translate(1870.6 179.28) scale(0.92 1)" font-size="30" fill="#000">=0.9</text>
</g>
</svg>
</body>
</html>
